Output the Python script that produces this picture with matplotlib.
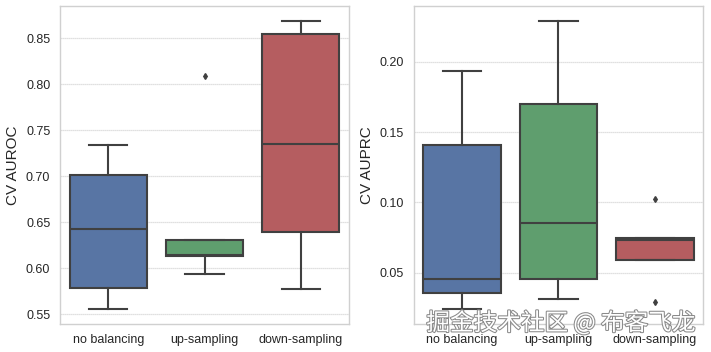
import numpy as np
import matplotlib
matplotlib.use("Agg")
import matplotlib.pyplot as plt
import matplotlib.patheffects as pe

plt.rcParams['font.family'] = ['Liberation Sans', 'DejaVu Sans']

categories = ["no balancing", "up-sampling", "down-sampling"]
colors = ["#5875A4", "#5F9E6E", "#B55D60"]

# CV AUROC
auroc_whislo = [0.556, 0.594, 0.578]
auroc_q1 = [0.579, 0.613, 0.639]
auroc_med = [0.643, 0.615, 0.735]
auroc_q3 = [0.701, 0.631, 0.855]
auroc_whishi = [0.734, 0.631, 0.869]
auroc_fliers = [[], [0.809], []]

# CV AUPRC
auprc_whislo = [0.0244, 0.0315, 0.059]
auprc_q1 = [0.0354, 0.0457, 0.059]
auprc_med = [0.0453, 0.0856, 0.0732]
auprc_q3 = [0.141, 0.170, 0.0749]
auprc_whishi = [0.1936, 0.229, 0.0749]
auprc_fliers = [[], [], [0.1024, 0.0292]]


def make_stats(lo, q1, med, q3, hi, fl):
    stats = []
    for i in range(len(categories)):
        stats.append(dict(whislo=lo[i], q1=q1[i], med=med[i], q3=q3[i],
                          whishi=hi[i], fliers=fl[i], label=categories[i]))
    return stats


def dibujar(ax, stats, ylabel, ylim, yticks):
    line = dict(color="#404040", linewidth=1.5)
    bp = ax.bxp(stats, positions=range(len(categories)), widths=0.8,
                patch_artist=True, showcaps=True,
                boxprops=dict(edgecolor="#404040", linewidth=1.5),
                medianprops=line, whiskerprops=line, capprops=line,
                flierprops=dict(marker="d", markersize=3, markerfacecolor="#404040",
                                markeredgecolor="#404040"))
    for patch, c in zip(bp["boxes"], colors):
        patch.set_facecolor(c)
    for cap in bp["caps"]:
        x = cap.get_xdata()
        m = x.mean()
        cap.set_xdata([m - 0.2, m + 0.2])
    ax.set_xlim(-0.5, 2.5)
    ax.set_ylim(*ylim)
    ax.set_yticks(yticks)
    ax.set_yticklabels(["%.2f" % t for t in yticks])
    ax.set_xticks(range(len(categories)))
    ax.set_xticklabels(categories)
    ax.set_ylabel(ylabel, fontsize=11, color="#262626")
    ax.tick_params(axis="both", length=0, labelsize=9, colors="#262626", pad=7)
    ax.grid(axis="y", color="#d6d6d6", linewidth=0.9, linestyle=(0, (1, 0.6)))
    ax.set_axisbelow(True)
    for s in ax.spines.values():
        s.set_color("#d0d0d0")
        s.set_linewidth(1)


fig = plt.figure(figsize=(7.11, 3.52), dpi=100)
ax1 = fig.add_axes([0.0844, 0.0795, 0.4066, 0.9035])
ax2 = fig.add_axes([0.582, 0.0795, 0.407, 0.9035])

dibujar(ax1, make_stats(auroc_whislo, auroc_q1, auroc_med, auroc_q3, auroc_whishi, auroc_fliers),
        "CV AUROC", (0.5395, 0.885), [0.55, 0.60, 0.65, 0.70, 0.75, 0.80, 0.85])
dibujar(ax2, make_stats(auprc_whislo, auprc_q1, auprc_med, auprc_q3, auprc_whishi, auprc_fliers),
        "CV AUPRC", (0.0135, 0.2396), [0.05, 0.10, 0.15, 0.20])

fig.text(0.789, 0.083, "掘金技术社区 @ 布客飞龙", fontsize=17, ha="center", va="center",
         color="white", family=["Noto Sans CJK SC", "DejaVu Sans"],
         path_effects=[pe.withStroke(linewidth=1.5, foreground="#8a8a8a")])

fig.savefig("out.png", dpi=100)
